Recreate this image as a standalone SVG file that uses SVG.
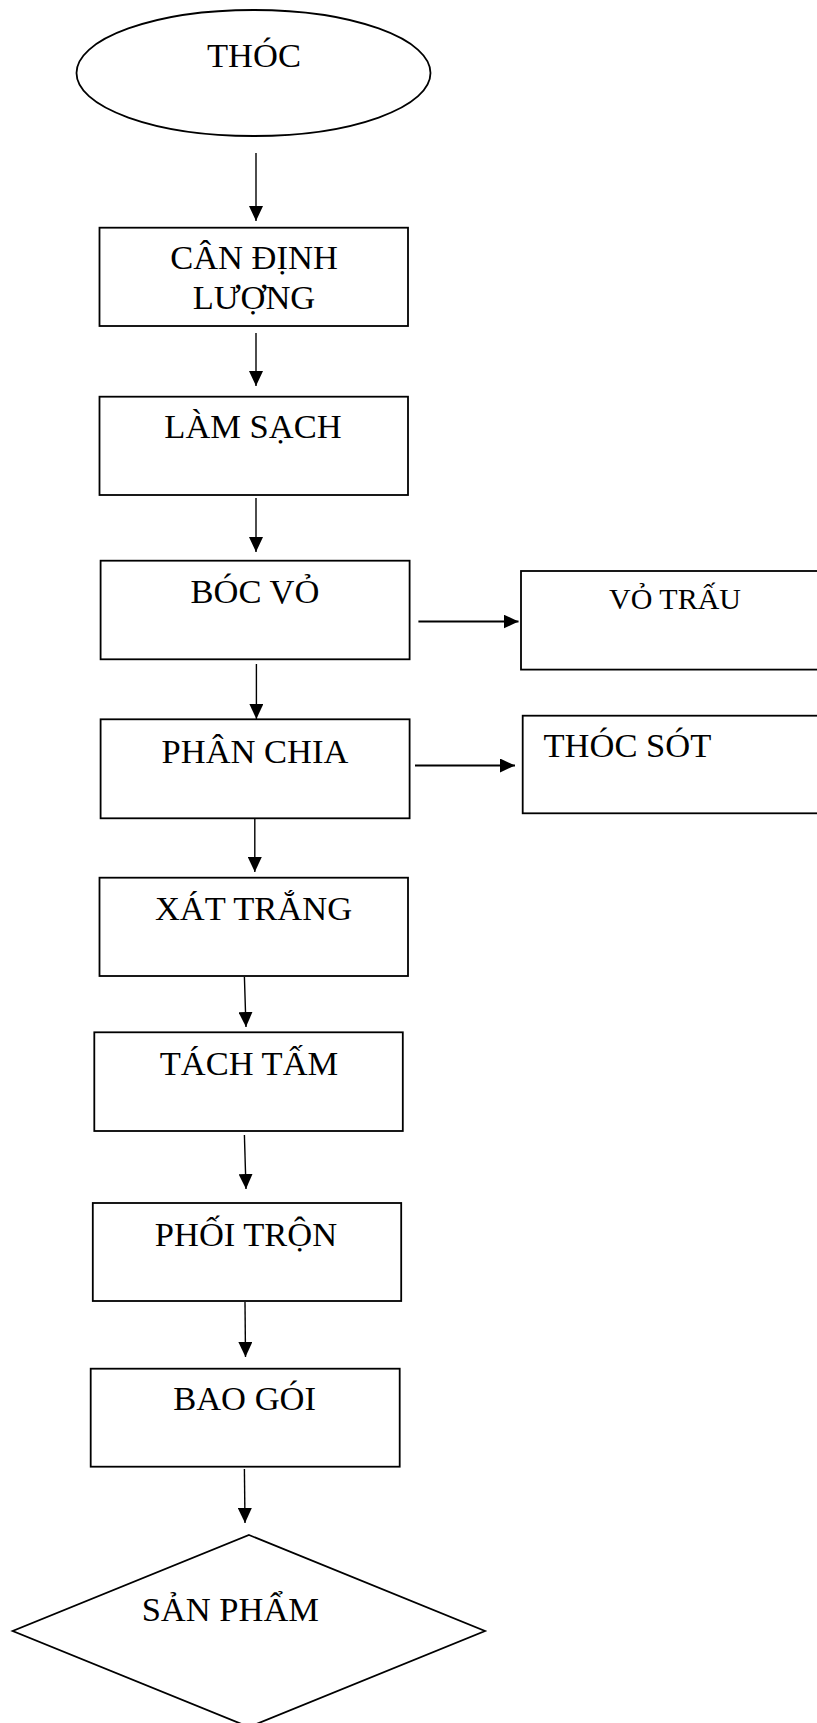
<svg xmlns="http://www.w3.org/2000/svg" width="817" height="1723" viewBox="0 0 817 1723">
<style>
.shape{fill:#fff;stroke:#000;stroke-width:1.8}
.lbl{font-family:"Liberation Serif","Times New Roman",serif;font-size:34.5px;fill:#000;text-anchor:middle}
.sm{font-size:30px}
.st{text-anchor:start}
.c{stroke:#000;stroke-width:1.4;fill:none}
.ch{stroke:#000;stroke-width:2.2;fill:none}
</style>
<defs>
<marker id="ah" markerUnits="userSpaceOnUse" viewBox="0 0 15 14" refX="15" refY="7" markerWidth="15" markerHeight="14" orient="auto">
<path d="M0,0 L15,7 L0,14 Z" fill="#000"/>
</marker>
</defs>
<rect width="817" height="1723" fill="#fff"/>
<g id="n-thoc">
<ellipse class="shape" cx="253.5" cy="73" rx="177" ry="63"/>
<text class="lbl" x="254" y="67">THÓC</text>
</g>
<g id="n-can">
<rect class="shape" x="99.5" y="227.7" width="308.5" height="98.3"/>
<text class="lbl" x="254" y="269.3">CÂN ĐỊNH</text>
<text class="lbl" x="254" y="309">LƯỢNG</text>
</g>
<g id="n-lamsach">
<rect class="shape" x="99.5" y="396.7" width="308.5" height="98.3"/>
<text class="lbl" x="253" y="438.3">LÀM SẠCH</text>
</g>
<g id="n-bocvo">
<rect class="shape" x="100.6" y="560.7" width="309" height="98.6"/>
<text class="lbl" x="255" y="603.3">BÓC VỎ</text>
</g>
<g id="n-votrau">
<rect class="shape" x="521" y="571" width="310" height="98.6"/>
<text class="lbl sm" x="675" y="609">VỎ TRẤU</text>
</g>
<g id="n-phanchia">
<rect class="shape" x="100.6" y="719.3" width="309" height="99"/>
<text class="lbl" x="255" y="762.7">PHÂN CHIA</text>
</g>
<g id="n-thocsot">
<rect class="shape" x="522.7" y="715.7" width="310" height="97.6"/>
<text class="lbl st" x="543.5" y="756.7">THÓC SÓT</text>
</g>
<g id="n-xattrang">
<rect class="shape" x="99.5" y="877.7" width="308.5" height="98.3"/>
<text class="lbl" x="253.5" y="920">XÁT TRẮNG</text>
</g>
<g id="n-tachtam">
<rect class="shape" x="94.3" y="1032.3" width="308.5" height="98.7"/>
<text class="lbl" x="249" y="1075">TÁCH TẤM</text>
</g>
<g id="n-phoitron">
<rect class="shape" x="92.8" y="1203" width="308.4" height="98"/>
<text class="lbl" x="246" y="1245.7">PHỐI TRỘN</text>
</g>
<g id="n-baogoi">
<rect class="shape" x="90.7" y="1368.7" width="309" height="98"/>
<text class="lbl" x="244.6" y="1410">BAO GÓI</text>
</g>
<g id="n-sanpham">
<polygon class="shape" points="249,1535 485,1631 249,1727 12.7,1631"/>
<text class="lbl st" x="141.7" y="1620.7">SẢN PHẨM</text>
</g>
<g id="connectors">
<line class="c" x1="256" y1="153" x2="256" y2="221" marker-end="url(#ah)"/>
<line class="c" x1="256" y1="333" x2="256" y2="386" marker-end="url(#ah)"/>
<line class="c" x1="256" y1="498" x2="256" y2="552" marker-end="url(#ah)"/>
<line class="c" x1="256.4" y1="664" x2="256.4" y2="719" marker-end="url(#ah)"/>
<line class="c" x1="254.8" y1="818.5" x2="254.8" y2="872" marker-end="url(#ah)"/>
<line class="c" x1="244.4" y1="977" x2="246" y2="1027" marker-end="url(#ah)"/>
<line class="c" x1="244.4" y1="1135" x2="246" y2="1189" marker-end="url(#ah)"/>
<line class="c" x1="245" y1="1302" x2="245.5" y2="1357" marker-end="url(#ah)"/>
<line class="c" x1="244.4" y1="1469" x2="245" y2="1523" marker-end="url(#ah)"/>
<line class="ch" x1="418.4" y1="621.5" x2="518.5" y2="621.5" marker-end="url(#ah)"/>
<line class="ch" x1="415" y1="765.5" x2="515" y2="765.5" marker-end="url(#ah)"/>
</g>
</svg>
